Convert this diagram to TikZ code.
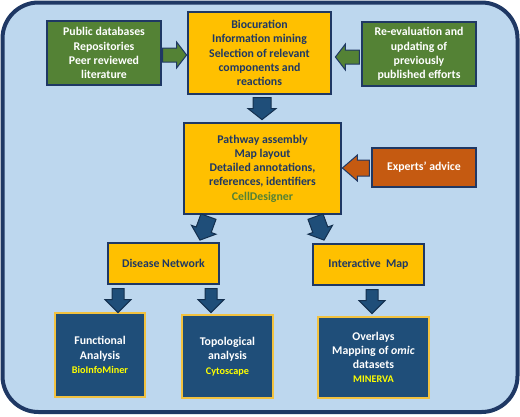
\documentclass[tikz,border=0pt]{standalone}
\usepackage{fontspec}
\setmainfont{Carlito}
\usetikzlibrary{calc}
\definecolor{bgblue}{HTML}{BDD7EE}
\definecolor{navy}{HTML}{1F3864}
\definecolor{ggreen}{HTML}{548235}
\definecolor{gyellow}{HTML}{FFC000}
\definecolor{gorange}{HTML}{C55A11}
\definecolor{bnavy}{HTML}{1F4E79}
\definecolor{bline}{HTML}{14304F}
\definecolor{gold}{HTML}{F2C240}
\definecolor{ytext}{HTML}{FFFF00}
\newcommand\toolfont{\fontsize{10.2}{13}\selectfont\bfseries\color{ytext}}
\newcommand\blkarrow[7]{%
  \begin{scope}[shift={#2},rotate=#3]
    \draw[#1] (0,-#5)--({#4-#7},-#5)--({#4-#7},-#6)--(#4,0)--({#4-#7},#6)--({#4-#7},#5)--(0,#5)--cycle;
  \end{scope}}
\tikzset{
  box/.style={rectangle, draw=navy, line width=1.2pt, inner sep=0pt, align=center,
    font=\fontsize{11.8}{14.2}\selectfont\bfseries},
  greenbox/.style={box, fill=ggreen, text=white},
  yellowbox/.style={box, fill=gyellow, text=navy},
  orangebox/.style={box, fill=gorange, text=white},
  navybox/.style={box, fill=bnavy, draw=gold, line width=1.5pt, text=white},
  garrow/.style={fill=ggreen, draw=navy, line width=1pt, line join=miter},
  oarrow/.style={fill=gorange, draw=navy, line width=1pt, line join=miter},
  barrow/.style={fill=bnavy, draw=bline, line width=1pt, line join=miter},
}
\begin{document}
\begin{tikzpicture}[x=1pt,y=-1pt]
\useasboundingbox (0,0) rectangle (520,416);
\draw[fill=bgblue, draw=navy, line width=4pt, rounded corners=36pt] (2.5,2.5) rectangle (517.5,412);

\node[greenbox, minimum width=114pt, minimum height=64pt] (src) at (104,53)
  {Public databases\\Repositories\\Peer reviewed\\literature};
\node[yellowbox, minimum width=143pt, minimum height=82pt] (bio) at (259.5,53)
  {Biocuration\\Information mining\\Selection of relevant\\components and\\reactions};
\node[greenbox, minimum width=114pt, minimum height=64pt] (reeval) at (419,54)
  {Re-evaluation and\\updating of\\previously\\published efforts};
\node[yellowbox, minimum width=157pt, minimum height=91pt] (path) at (262.5,168.5)
  {Pathway assembly\\Map layout\\Detailed annotations,\\references, identifiers\\{\color{ggreen}CellDesigner}};
\node[orangebox, minimum width=104pt, minimum height=39pt] (expert) at (424,167.5)
  {Experts’ advice};
\node[yellowbox, minimum width=111pt, minimum height=41pt] (disease) at (163.5,263.5)
  {Disease Network};
\node[yellowbox, minimum width=111pt, minimum height=41pt] (inter) at (368.5,264.5)
  {Interactive\ \ Map};
\node[navybox, minimum width=90pt, minimum height=84pt] (func) at (100,355)
  {Functional\\Analysis\\{\toolfont BioInfoMiner}};
\node[navybox, minimum width=91pt, minimum height=83pt] (topo) at (227.5,356.5)
  {Topological\\analysis\\{\toolfont Cytoscape}};
\node[navybox, minimum width=111pt, minimum height=81pt] (over) at (373.5,357.5)
  {Overlays\\Mapping of \textit{omic}\\datasets\\{\toolfont MINERVA}};

\blkarrow{garrow}{($(src.east)+(1,2)$)}{0}{24}{7}{13}{10}
\blkarrow{garrow}{($(reeval.west)+(-2,3)$)}{180}{24}{7}{13}{10}
\blkarrow{barrow}{($(bio.south)+(2.5,3)$)}{-90}{22}{9}{14}{11}
\blkarrow{oarrow}{($(expert.west)+(-2,0.5)$)}{180}{27}{8}{13}{15}
\blkarrow{barrow}{($(path.south)+(-54,2)$)}{-110}{25}{8}{13}{11}
\blkarrow{barrow}{($(path.south)+(53,2)$)}{-70}{25}{8}{13}{11}
\blkarrow{barrow}{($(disease.south)+(-45.5,4)$)}{-90}{24}{6}{13}{13}
\blkarrow{barrow}{($(disease.south)+(47.5,4)$)}{-90}{24}{6}{13}{13}
\blkarrow{barrow}{($(inter.south)+(3.5,4)$)}{-90}{24}{6}{13}{13}
\end{tikzpicture}
\end{document}
